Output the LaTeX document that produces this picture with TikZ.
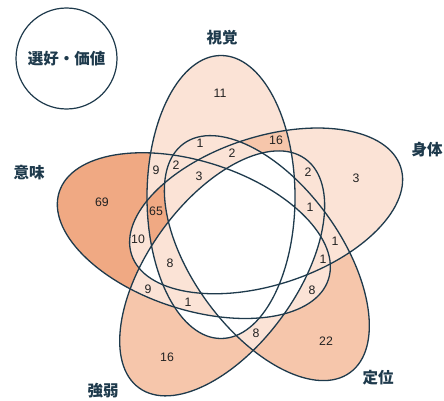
\documentclass[tikz,border=0pt]{standalone}
\usepackage{fontspec}
\setmainfont{Liberation Sans}
\newfontfamily\cjk{Noto Sans CJK JP}
\definecolor{lt}{HTML}{FBE3D6}
\definecolor{md}{HTML}{F6C6AB}
\definecolor{dk}{HTML}{F0A983}
\definecolor{ln}{HTML}{1E3A4C}
\definecolor{tx}{HTML}{222222}
\newcommand{\inE}[1]{\clip[rotate around={-72*#1:(234,165)}] (221,203) ellipse [x radius=74, y radius=141.5];}
\newcommand{\outE}[1]{\pgfseteorule\clip[rotate around={-72*#1:(234,165)}] (-3000,-3000) -- (-3000,3000) -- (3000,3000) -- (3000,-3000) -- cycle (221,203) ellipse [x radius=74, y radius=141.5];}
\newcommand{\selE}[2]{\ifnum#2=1 \inE{#1}\else\outE{#1}\fi}
\newcommand{\regn}[6]{\begin{scope}\selE{0}{#1}\selE{1}{#2}\selE{2}{#3}\selE{3}{#4}\selE{4}{#5}\fill[#6] (-5,-5) rectangle (449,405);\end{scope}}
\tikzset{
  num/.style={font=\fontsize{12.3}{14}\selectfont, text=tx, inner sep=0pt},
  lab/.style={font=\cjk\bfseries\fontsize{15.5}{18}\selectfont, text=ln, inner sep=0pt},
  outl/.style={draw=ln, line width=1.3pt}
}
\begin{document}
\begin{tikzpicture}[x=1pt,y=1pt]
\useasboundingbox (0,0) rectangle (444,400);
\fill[white] (0,0) rectangle (444,400);
% base fill
\foreach \k in {0,...,4}
  \fill[lt, rotate around={-72*\k:(234,165)}] (221,203) ellipse [x radius=74, y radius=141.5];
% white (empty) regions
\regn{1}{0}{0}{1}{0}{white}
\regn{0}{0}{1}{1}{1}{white}
\regn{1}{1}{0}{1}{0}{white}
\regn{1}{0}{1}{1}{0}{white}
\regn{0}{1}{0}{1}{1}{white}
\regn{1}{1}{1}{1}{0}{white}
\regn{0}{1}{1}{1}{1}{white}
\regn{1}{0}{1}{1}{1}{white}
\regn{1}{1}{1}{1}{1}{white}
% medium
\regn{1}{1}{0}{0}{0}{md}
\regn{0}{0}{1}{0}{0}{md}
\regn{0}{0}{0}{1}{0}{md}
% dark
\regn{0}{0}{0}{0}{1}{dk}
\regn{1}{1}{0}{0}{1}{dk}
% outlines
\foreach \k in {0,...,4}
  \draw[outl, rotate around={-72*\k:(234,165)}] (221,203) ellipse [x radius=74, y radius=141.5];
% title circle
\node[draw=ln, line width=1.2pt, circle, minimum size=101pt, inner sep=0pt] (pv) at (66.5,341.5) {};
\node[lab] (pvt) at (66.5,341) {選好・価値};
% set labels
\node[lab] (lv) at (222,362.5) {視覚};
\node[lab] (ls) at (427,250) {身体};
\node[lab] (lt) at (378,22) {定位};
\node[lab] (lk) at (103,9) {強弱};
\node[lab] (li) at (29,227) {意味};
% counts
\node[num] (n1) at (220,307) {11};
\node[num] (n2) at (200,257) {1};
\node[num] (n3) at (176,235) {2};
\node[num] (n4) at (156,230) {9};
\node[num] (n5) at (199,224) {3};
\node[num] (n6) at (232,247) {2};
\node[num] (n7) at (276,260) {16};
\node[num] (n8) at (308,228) {2};
\node[num] (n9) at (310,193) {1};
\node[num] (n10) at (356,222) {3};
\node[num] (n11) at (335,159) {1};
\node[num] (n12) at (323,141) {1};
\node[num] (n13) at (312,110) {8};
\node[num] (n14) at (326,59) {22};
\node[num] (n15) at (256,67) {8};
\node[num] (n16) at (167,43) {16};
\node[num] (n17) at (188,98) {1};
\node[num] (n18) at (148,111) {9};
\node[num] (n19) at (170,137) {8};
\node[num] (n20) at (138,161) {10};
\node[num] (n21) at (156,189) {65};
\node[num] (n22) at (102,198) {69};
\end{tikzpicture}
\end{document}
